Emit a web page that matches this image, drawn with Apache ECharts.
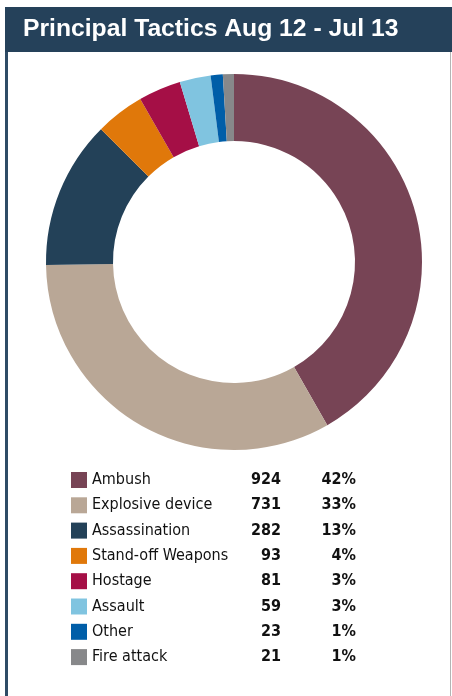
<!DOCTYPE html>
<html>
<head>
<meta charset="utf-8">
<script src="https://cdn.jsdelivr.net/npm/echarts@6/dist/echarts.min.js"></script>
<style>
  html, body { margin: 0; padding: 0; background: #ffffff; }
  #chart { width: 452px; height: 696px; }
</style>
</head>
<body>
<div id="chart"></div>
<script>
// Incident counts by tactic, Aug 2012 - Jul 2013
var tactics = ['Ambush', 'Explosive device', 'Assassination', 'Stand-off Weapons', 'Hostage', 'Assault', 'Other', 'Fire attack'];
var counts = [924, 731, 282, 93, 81, 59, 23, 21];
var shareLabels = ['42%', '33%', '13%', '4%', '3%', '3%', '1%', '1%'];
var colors = ['#774455', '#b9a796', '#234158', '#e0780a', '#a50f46', '#80c4e0', '#005ea8', '#87888a'];

var titleText = 'Principal Tactics Aug 12 - Jul 13';
var headerColor = '#25415a';

var chart = echarts.init(document.getElementById('chart'), null, { renderer: 'canvas' });

var pieData = tactics.map(function (t, i) {
  return { name: t, value: counts[i], itemStyle: { color: colors[i] } };
});

var legendFont = "'DejaVu Sans Condensed', 'Liberation Sans', sans-serif";
var legendSize = 16;

chart.setOption({
  animation: false,
  backgroundColor: '#ffffff',
  graphic: [
    // panel frame
    { type: 'rect', shape: { x: 5, y: 50, width: 3, height: 646 }, style: { fill: '#2f4c66' }, silent: true },
    { type: 'rect', shape: { x: 450, y: 50, width: 1, height: 646 }, style: { fill: '#b4b4b4' }, silent: true },
    // header band
    { type: 'rect', shape: { x: 5, y: 7, width: 447, height: 45 }, style: { fill: headerColor }, silent: true },
    {
      type: 'text', x: 23, y: 29, silent: true,
      style: {
        text: titleText, fill: '#ffffff',
        verticalAlign: 'middle',
        font: "bold 24.7px 'Liberation Sans', Arial, sans-serif"
      }
    }
  ],
  legend: {
    orient: 'vertical',
    left: 71,
    top: 472,
    padding: 0,
    itemWidth: 16,
    itemHeight: 16,
    itemGap: 9.3,
    icon: 'rect',
    selectedMode: false,
    data: tactics,
    formatter: function (name) {
      var i = tactics.indexOf(name);
      return '{n|' + name + '}{v|' + counts[i] + '}{p|' + shareLabels[i] + '}';
    },
    textStyle: {
      color: '#111111',
      fontFamily: legendFont,
      fontSize: legendSize,
      lineHeight: 16,
      rich: {
        n: { width: 149, align: 'left', fontSize: legendSize, lineHeight: 16, fontFamily: legendFont, color: '#111111' },
        v: { width: 40, align: 'right', fontSize: legendSize, lineHeight: 16, fontWeight: 'bold', fontFamily: legendFont, color: '#111111' },
        p: { width: 75, align: 'right', fontSize: legendSize, lineHeight: 16, fontWeight: 'bold', fontFamily: legendFont, color: '#111111' }
      }
    }
  },
  series: [{
    type: 'pie',
    center: [234, 262],
    radius: [121, 188],
    startAngle: 90,
    clockwise: true,
    silent: true,
    label: { show: false },
    labelLine: { show: false },
    itemStyle: { borderWidth: 0 },
    data: pieData
  }]
});
</script>
</body>
</html>
